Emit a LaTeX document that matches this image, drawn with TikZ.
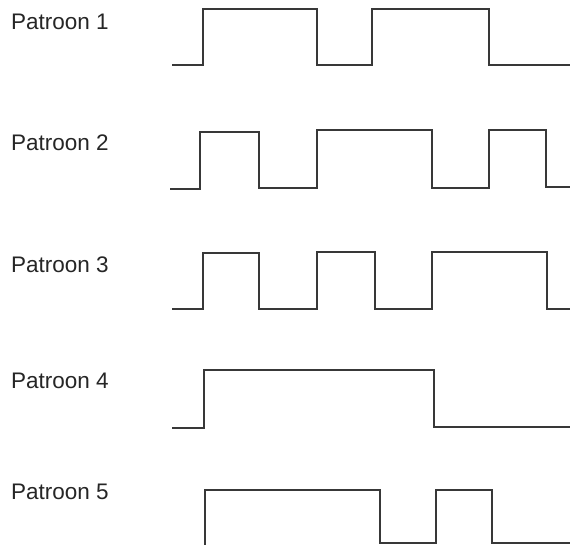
\documentclass[tikz,border=0pt]{standalone}
\usepackage{fontspec}
\setmainfont{Liberation Sans}
\begin{document}
\begin{tikzpicture}[x=1pt,y=-1pt,
  wave/.style={draw=black!78, line width=1.7pt, line join=miter},
  lbl/.style={anchor=west, inner sep=0pt, text=black!85, font=\fontsize{22.5}{22.5}\selectfont}]
\useasboundingbox (0,0) rectangle (570,545);
\fill[white] (0,0) rectangle (570,545);
\node[lbl] (p1) at (11,22) {Patroon 1};
\node[lbl] (p2) at (11,143) {Patroon 2};
\node[lbl] (p3) at (11,265) {Patroon 3};
\node[lbl] (p4) at (11,381) {Patroon 4};
\node[lbl] (p5) at (11,492) {Patroon 5};
\draw[wave] (172,65) -| (203,9) -| (317,65) -| (372,9) -| (489,65) -- (570,65);
\draw[wave] (170,189) -| (200,132) -| (259,188) -| (317,130) -| (432,188) -| (489,130) -| (546,187) -- (570,187);
\draw[wave] (172,309) -| (203,253) -| (259,309) -| (317,252) -| (375,309) -| (432,252) -| (547,309) -- (570,309);
\draw[wave] (172,428) -| (204,370) -| (434,427) -- (570,427);
\draw[wave] (205,546) -- (205,490) -| (380,543) -| (436,490) -| (492,543) -- (570,543);
\end{tikzpicture}
\end{document}
